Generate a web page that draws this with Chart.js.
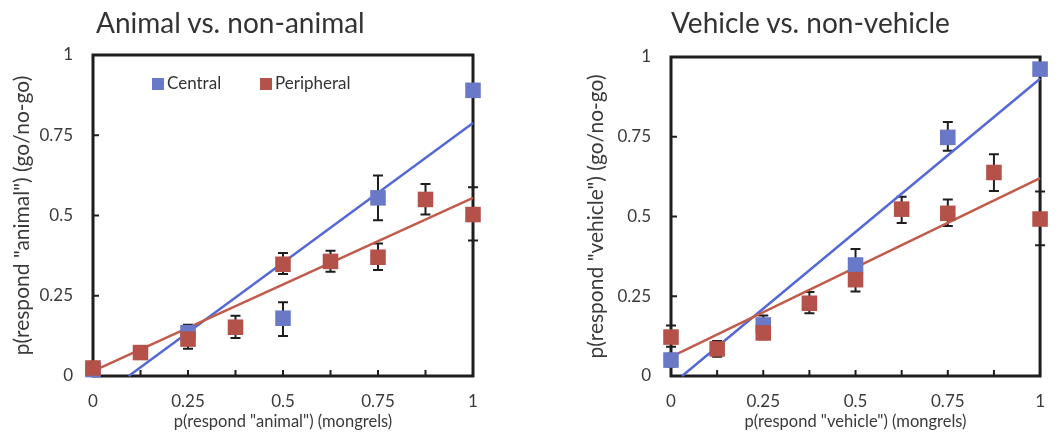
<!DOCTYPE html>
<html>
<head>
<meta charset="utf-8">
<script src="https://cdn.jsdelivr.net/npm/chart.js@4.4.1/dist/chart.umd.min.js"></script>
<style>
  html, body { margin: 0; padding: 0; background: #fff; }
  body { width: 1060px; height: 445px; position: relative; overflow: hidden; font-family: Lato, "Open Sans", sans-serif; color: #333; }
  .panel { position: absolute; top: 0; width: 530px; height: 445px; }
  .panel canvas { position: absolute; left: 0; top: 0; }
  .title { position: absolute; top: 5px; font-size: 28px; line-height: 34px; color: #333; white-space: nowrap; }
  .legend { position: absolute; top: 73px; font-size: 17px; line-height: 20px; color: #333; white-space: nowrap; }
  .legend .sw { position: absolute; top: 5px; width: 12px; height: 12px; }
  .legend .lbl { position: absolute; top: 0; }
</style>
</head>
<body>
<div class="panel" style="left:0">
  <canvas id="animal" width="530" height="445"></canvas>
  <div class="title" style="left:96px">Animal vs. non-animal</div>
  <div class="legend" style="left:0">
    <span class="sw" style="left:152px;background:#6a78c8"></span><span class="lbl" style="left:167px">Central</span>
    <span class="sw" style="left:260px;background:#b4524a"></span><span class="lbl" style="left:275px">Peripheral</span>
  </div>
</div>
<div class="panel" style="left:530px">
  <canvas id="vehicle" width="530" height="445"></canvas>
  <div class="title" style="left:141px">Vehicle vs. non-vehicle</div>
</div>
<script>
const FONT = "Lato, 'Open Sans', sans-serif";
const BLUE = "#6a78c8", BLUE_LINE = "#5569d6";
const RED = "#b4524a", RED_LINE = "#c15b4a";

// x levels (proportion of target in the mongrel)
const xCentral    = [0, 0.25, 0.5, 0.75, 1];
const xPeripheral = [0, 0.125, 0.25, 0.375, 0.5, 0.625, 0.75, 0.875, 1];
const xTicks      = ["0", "0.25", "0.5", "0.75", "1"];

// Animal vs. non-animal
const animalCentral      = [0.02, 0.135, 0.18, 0.555, 0.89];
const animalCentralLo    = [0.01, 0.10, 0.125, 0.485, 0.88];
const animalCentralHi    = [0.03, 0.16, 0.23, 0.625, 0.90];
const animalPeripheral   = [0.025, 0.073, 0.115, 0.152, 0.348, 0.357, 0.37, 0.55, 0.503];
const animalPeripheralLo = [0.015, 0.065, 0.085, 0.118, 0.318, 0.325, 0.33, 0.503, 0.422];
const animalPeripheralHi = [0.035, 0.082, 0.155, 0.188, 0.383, 0.39, 0.413, 0.598, 0.588];
const animalCentralFitX    = [0.094, 1];
const animalCentralFitY    = [0, 0.788];
const animalPeripheralFitX = [0, 1];
const animalPeripheralFitY = [0.015, 0.555];

// Vehicle vs. non-vehicle
const vehicleCentral      = [0.05, 0.16, 0.348, 0.748, 0.962];
const vehicleCentralLo    = [0.03, 0.13, 0.31, 0.706, 0.95];
const vehicleCentralHi    = [0.07, 0.19, 0.398, 0.796, 0.975];
const vehiclePeripheral   = [0.122, 0.085, 0.135, 0.228, 0.302, 0.523, 0.51, 0.638, 0.492];
const vehiclePeripheralLo = [0.092, 0.06, 0.115, 0.197, 0.265, 0.48, 0.47, 0.58, 0.41];
const vehiclePeripheralHi = [0.158, 0.11, 0.19, 0.263, 0.33, 0.562, 0.553, 0.695, 0.578];
const vehicleCentralFitX    = [0.03, 1];
const vehicleCentralFitY    = [0, 0.932];
const vehiclePeripheralFitX = [0, 1];
const vehiclePeripheralFitY = [0.06, 0.62];

const pts = (xs, ys) => xs.map((x, i) => ({ x, y: ys[i] }));

// frame, inward tick marks and error bars, all under the markers
function framePlugin(bars) {
  return {
    id: "frameAndErrors",
    beforeDatasetsDraw(chart) {
      const { ctx, chartArea: a, scales: { x, y } } = chart;
      ctx.save();
      ctx.strokeStyle = "#1e1e1e";
      ctx.lineWidth = 3;
      ctx.strokeRect(a.left, a.top, a.right - a.left, a.bottom - a.top);

      ctx.lineWidth = 2;
      ctx.beginPath();
      x.ticks.forEach(t => {
        const px = x.getPixelForValue(t.value);
        ctx.moveTo(px, a.bottom); ctx.lineTo(px, a.bottom - 6);
      });
      y.ticks.forEach(t => {
        const py = y.getPixelForValue(t.value);
        ctx.moveTo(a.left, py); ctx.lineTo(a.left + 6, py);
      });
      bars.forEach(b => {
        b.xs.forEach((xv, i) => {
          const px = x.getPixelForValue(xv);
          const lo = y.getPixelForValue(b.lo[i]);
          const hi = y.getPixelForValue(b.hi[i]);
          ctx.moveTo(px, lo); ctx.lineTo(px, hi);
          ctx.moveTo(px - 5, lo); ctx.lineTo(px + 5, lo);
          ctx.moveTo(px - 5, hi); ctx.lineTo(px + 5, hi);
        });
      });
      ctx.stroke();
      ctx.restore();
    }
  };
}

function makeChart(id, c) {
  const pointSet = (label, xs, ys, color) => ({
    label, data: pts(xs, ys), pointStyle: "rect", pointRadius: 11, pointHoverRadius: 11,
    pointBackgroundColor: color, pointBorderWidth: 0, showLine: false, clip: false
  });
  const fitSet = (label, xs, ys, color) => ({
    label, data: pts(xs, ys), showLine: true, borderColor: color, borderWidth: 2.5,
    pointRadius: 0, fill: false, clip: false
  });

  return new Chart(document.getElementById(id), {
    type: "scatter",
    data: {
      datasets: [
        pointSet("Peripheral", xPeripheral, c.per, RED),
        pointSet("Central", xCentral, c.cen, BLUE),
        fitSet("Peripheral fit", c.perFitX, c.perFitY, RED_LINE),
        fitSet("Central fit", c.cenFitX, c.cenFitY, BLUE_LINE),
      ]
    },
    options: {
      responsive: false,
      animation: false,
      devicePixelRatio: 1,
      layout: { padding: { top: c.top, right: c.right, left: c.left, bottom: 0 } },
      plugins: { legend: { display: false }, tooltip: { enabled: false } },
      scales: {
        x: {
          type: "linear", min: 0, max: 1,
          afterFit: s => { s.height = c.xHeight; },
          grid: { display: false, drawTicks: false },
          border: { display: false },
          ticks: {
            stepSize: 0.125, autoSkip: false, maxRotation: 0, padding: 15,
            color: "#3a3a3a", font: { family: FONT, size: 17 },
            callback: v => (Math.round(v * 8) % 2 === 0 ? xTicks[Math.round(v * 4)] : "")
          },
          title: {
            display: true, text: c.xTitle, color: "#3a3a3a",
            font: { family: FONT, size: 16.5 }, padding: { top: 0, bottom: 13 }
          }
        },
        y: {
          type: "linear", min: 0, max: 1,
          afterFit: s => { s.width = c.yWidth; },
          grid: { display: false, drawTicks: false },
          border: { display: false },
          ticks: {
            stepSize: 0.25, padding: 20,
            color: "#3a3a3a", font: { family: FONT, size: 17 },
            callback: v => xTicks[Math.round(v * 4)]
          },
          title: {
            display: true, text: c.yTitle, color: "#3a3a3a",
            font: { family: FONT, size: 21 }, padding: { top: 10, bottom: 0 }
          }
        }
      }
    },
    plugins: [framePlugin([
      { xs: xCentral, lo: c.cenLo, hi: c.cenHi },
      { xs: xPeripheral, lo: c.perLo, hi: c.perHi },
    ])]
  });
}

makeChart("animal", {
  cen: animalCentral, cenLo: animalCentralLo, cenHi: animalCentralHi,
  per: animalPeripheral, perLo: animalPeripheralLo, perHi: animalPeripheralHi,
  cenFitX: animalCentralFitX, cenFitY: animalCentralFitY,
  perFitX: animalPeripheralFitX, perFitY: animalPeripheralFitY,
  xTitle: 'p(respond "animal") (mongrels)',
  yTitle: 'p(respond "animal") (go/no-go)',
  top: 55, right: 57, left: 0, yWidth: 93, xHeight: 69
});

makeChart("vehicle", {
  cen: vehicleCentral, cenLo: vehicleCentralLo, cenHi: vehicleCentralHi,
  per: vehiclePeripheral, perLo: vehiclePeripheralLo, perHi: vehiclePeripheralHi,
  cenFitX: vehicleCentralFitX, cenFitY: vehicleCentralFitY,
  perFitX: vehiclePeripheralFitX, perFitY: vehiclePeripheralFitY,
  xTitle: 'p(respond "vehicle") (mongrels)',
  yTitle: 'p(respond "vehicle") (go/no-go)',
  top: 57, right: 6, left: 44, yWidth: 97, xHeight: 69
});
</script>
</body>
</html>
